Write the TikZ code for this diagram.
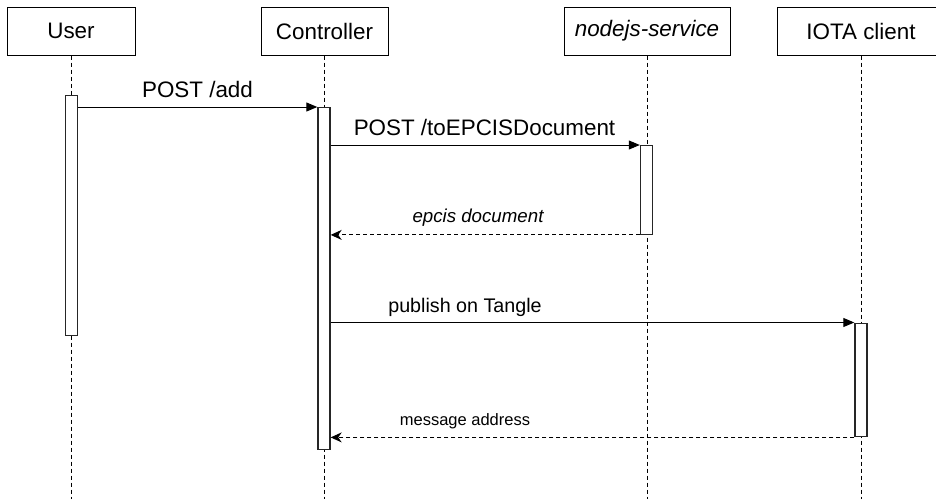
\documentclass[tikz,border=0pt]{standalone}
\usepackage{fontspec}
\setmainfont{Liberation Sans}
\usetikzlibrary{arrows.meta}
\begin{document}
\begin{tikzpicture}[x=1pt,y=-1pt,
  actor/.style={draw=black, line width=1pt, fill=white, minimum height=48pt, inner sep=0pt, font=\fontsize{22.4}{24}\selectfont},
  lifeline/.style={draw=black, line width=1pt, dash pattern=on 4pt off 3pt},
  activation/.style={draw=black!85, line width=1.4pt, fill=white, minimum width=12pt, inner sep=0pt, anchor=north},
  call/.style={draw=black, line width=1pt, -{Triangle[length=11pt,width=9pt]}},
  reply/.style={draw=black, line width=1pt, dash pattern=on 4pt off 3pt, -{Stealth[length=11pt,width=10pt,inset=3.5pt]}},
  msg/.style={anchor=base, inner sep=0pt}
]
\useasboundingbox (0,0) rectangle (936,499);
\begin{scope}
\clip (0,0) rectangle (936,499);

% participants
\node[actor, minimum width=128pt] (user) at (71,31) {User};
\node[actor, minimum width=127pt] (ctrl) at (324.5,31) {Controller};
\node[actor, minimum width=166pt] (node) at (647,31) {\itshape nodejs-service};
\node[actor, minimum width=168pt] (iota) at (861,31) {IOTA client};

% lifeline ends
\coordinate (userEnd) at (71.5,499);
\coordinate (ctrlEnd) at (324,499);
\coordinate (nodeEnd) at (647,499);
\coordinate (iotaEnd) at (861,499);

\draw[lifeline] (user.south -| userEnd) -- (userEnd);
\draw[lifeline] (ctrl.south -| ctrlEnd) -- (ctrlEnd);
\draw[lifeline] (node.south -| nodeEnd) -- (nodeEnd);
\draw[lifeline] (iota.south -| iotaEnd) -- (iotaEnd);

% activation bars
\node[activation, minimum height=240pt] (userAct) at (71.5,95) {};
\node[activation, minimum height=342pt] (ctrlAct) at (324,107) {};
\node[activation, minimum height=88.5pt] (nodeAct) at (646.5,145) {};
\node[activation, minimum height=113.5pt] (iotaAct) at (861,322.5) {};

% messages
\draw[call] (userAct.north east) ++(0,12) coordinate (m1s) -- (m1s -| ctrlAct.west) coordinate (m1e);
\node[msg, font=\fontsize{22.4}{24}\selectfont] (m1) at (197.5,97) {POST /add};

\draw[call] (ctrlAct.east |- nodeAct.north) -- (nodeAct.north west);
\node[msg, font=\fontsize{22.4}{24}\selectfont] (m2) at (484.5,135) {POST /toEPCISDocument};

\draw[reply] (nodeAct.south west) -- (nodeAct.south west -| ctrlAct.east);
\node[msg, font=\fontsize{18.7}{20}\selectfont\itshape] (m3) at (478,222) {epcis document};

\draw[call] (ctrlAct.east |- iotaAct.north) -- (iotaAct.north west);
\node[msg, font=\fontsize{19.7}{22}\selectfont] (m4) at (465,312.5) {publish on Tangle};

\draw[reply] (iotaAct.south west) -- (iotaAct.south west -| ctrlAct.east);
\node[msg, font=\fontsize{16.5}{18}\selectfont] (m5) at (465,425) {message address};
\end{scope}
\end{tikzpicture}
\end{document}
